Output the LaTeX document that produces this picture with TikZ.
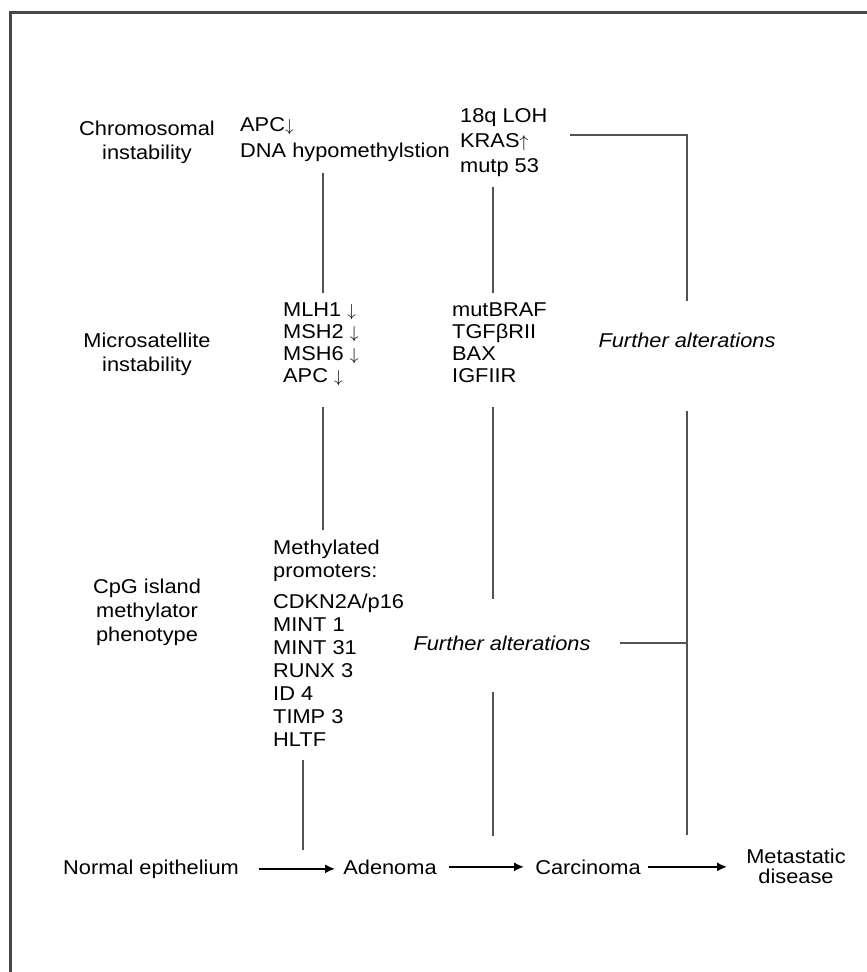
\documentclass[tikz,border=0pt]{standalone}
\usepackage{fontspec}
\setmainfont{Liberation Sans}[FakeStretch=1.09]
\usetikzlibrary{positioning, arrows.meta}
\newcommand{\dnarrow}{{\fontsize{17}{17}\selectfont$\downarrow$}}
\newcommand{\uparrowtxt}{{\fontsize{17}{17}\selectfont$\uparrow$}}

\begin{document}
\begin{tikzpicture}[x=1pt, y=-1pt,
    txt/.style={inner sep=0pt, align=left, anchor=north west, font=\fontsize{20}{24}\selectfont},
    lbl/.style={txt, align=center, anchor=north},
    further/.style={inner sep=0pt, font=\fontsize{20}{24}\selectfont\itshape},
    stage/.style={inner sep=0pt, anchor=base, font=\fontsize{20}{24}\selectfont},
    link/.style={draw=black!68, line width=2pt},
    arr/.style={draw=black, line width=2pt, -{Latex[length=10pt, width=9pt]}}]
   \useasboundingbox (0,0) rectangle (867,972);
   \clip (0,0) rectangle (867,972);
   \draw[black!72, line width=3pt] (10,990) |- (890,12);

   % pathway labels
   \node[lbl] (cin)  at (147,121) {Chromosomal\\instability};
   \node[lbl] (msi)  at (147,333) {Microsatellite\\instability};
   \node[lbl] (cimp) at (147,579) {CpG island\\methylator\\phenotype};

   % gene lists
   \node[txt, font=\fontsize{20}{26}\selectfont] (apc) at (240,117) {APC\dnarrow\\DNA hypomethylstion};
   \node[txt, font=\fontsize{20}{25}\selectfont] (kras) at (460,108) {18q LOH\\KRAS\uparrowtxt\\mutp 53};
   \node[txt, font=\fontsize{20}{22}\selectfont] (mlh) at (283,303)
      {MLH1 \dnarrow\\MSH2 \dnarrow\\MSH6 \dnarrow\\APC \dnarrow};
   \node[txt, font=\fontsize{20}{22}\selectfont] (braf) at (452,303) {mutBRAF\\TGFβRII\\BAX\\IGFIIR};
   \node[txt, font=\fontsize{20}{23}\selectfont] (prom) at (273,540)
      {Methylated\\promoters:\\[8pt]CDKN2A/p16\\MINT 1\\MINT 31\\RUNX 3\\ID 4\\TIMP 3\\HLTF};
   \node[further] (fa1) at (502,643) {Further alterations};
   \node[further] (fa2) at (687,340) {Further alterations};

   % stages
   \node[stage] (normal)  at (151,874) {Normal epithelium};
   \node[stage] (adenoma) at (390,874) {Adenoma};
   \node[stage] (carc)    at (588,874) {Carcinoma};
   \node[lbl, font=\fontsize{20}{20}\selectfont] (meta) at (796,849) {Metastatic\\disease};

   % link ends
   \coordinate (a1) at (323,173); \coordinate (a2) at (323,293);
   \coordinate (b1) at (323,407); \coordinate (b2) at (323,530);
   \coordinate (c1) at (303,760); \coordinate (c2) at (303,850);
   \coordinate (d1) at (493,187); \coordinate (d2) at (493,293);
   \coordinate (e1) at (493,407); \coordinate (e2) at (493,599);
   \coordinate (f1) at (493,692); \coordinate (f2) at (493,836);
   \coordinate (g1) at (570,135); \coordinate (g2) at (687,301);
   \coordinate (h1) at (687,411); \coordinate (h2) at (687,835);
   \coordinate (h3) at (620,643); \coordinate (h4) at (687,643);

   \draw[link] (a1) -- (a2);
   \draw[link] (b1) -- (b2);
   \draw[link] (c1) -- (c2);
   \draw[link] (d1) -- (d2);
   \draw[link] (e1) -- (e2);
   \draw[link] (f1) -- (f2);
   \draw[link] (g1) -| (g2);
   \draw[link] (h1) -- (h2);
   \draw[link] (h3) -- (h4);

   \draw[arr, shorten <=20pt, shorten >=8pt] (normal.east) -- (normal.east -| adenoma.west);
   \draw[arr, shorten <=12pt, shorten >=11pt] (adenoma.east) -- (adenoma.east -| carc.west);
   \draw[arr, shorten <=7pt, shorten >=19pt] (carc.east) -- (carc.east -| meta.west);
\end{tikzpicture}
\end{document}
